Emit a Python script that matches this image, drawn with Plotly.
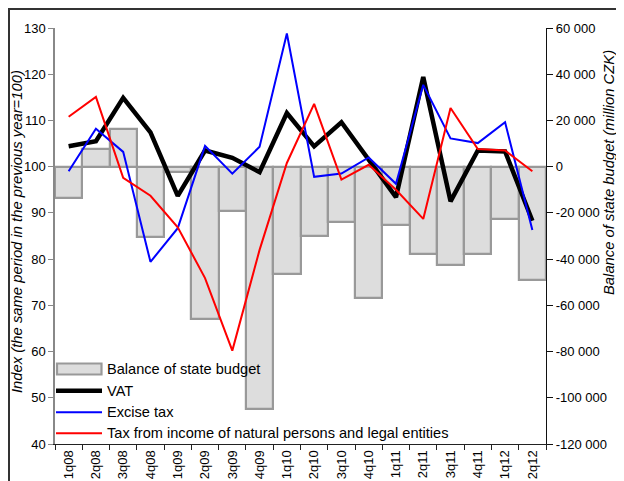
import plotly.graph_objects as go

quarters = ["1q08", "2q08", "3q08", "4q08", "1q09", "2q09", "3q09", "4q09", "1q10",
            "2q10", "3q10", "4q10", "1q11", "2q11", "3q11", "4q11", "1q12", "2q12"]
balance = [-13500, 7700, 16300, -30500, -2500, -66000, -19000, -105000, -46300,
           -30000, -23800, -57000, -25400, -37800, -42400, -37800, -22600, -49200]
vat = [104.4, 105.5, 114.9, 107.4, 93.7, 103.5, 101.9, 98.8, 111.6,
       104.4, 109.6, 101.5, 93.4, 119.4, 92.5, 103.5, 103.3, 88.3]
excise = [99.0, 108.2, 103.2, 79.4, 86.7, 104.5, 98.5, 104.3, 128.8,
          97.8, 98.5, 102.0, 96.3, 117.7, 106.1, 105.1, 109.6, 86.3]
income_tax = [110.8, 115.1, 97.6, 93.7, 86.9, 75.9, 60.2, 82.0, 100.8,
              113.6, 97.2, 100.4, 95.0, 88.7, 112.7, 103.8, 103.5, 99.0]

left_ticks = [40, 50, 60, 70, 80, 90, 100, 110, 120, 130]
right_tickvals = [-120000, -100000, -80000, -60000, -40000, -20000, 0, 20000, 40000, 60000]
right_ticktext = ["-120 000", "-100 000", "-80 000", "-60 000", "-40 000", "-20 000",
                  "0", "20 000", "40 000", "60 000"]

legend_names = ["Balance of state budget", "VAT", "Excise tax",
                "Tax from income of natural persons and legal entities"]

FONT = "Liberation Sans, Arial, sans-serif"
# page has an 8px body margin; figure placed at (8, 8)
OFF = 8
W, H = 624 - OFF, 481 - OFF
# plot area in page pixels: x 55..546, y 28..444
PL, PR, PT, PB = 55, 546, 28, 444
ML, MT = PL - OFF, PT - OFF
MR, MB = W - (PR - OFF), H - (PB - OFF)
PW, PH = PR - PL, PB - PT


def px(x):
    return (x - PL) / PW


def py(y):
    return (PB - y) / PH


fig = go.Figure()
fig.add_trace(go.Bar(x=quarters, y=balance, yaxis="y",
                     marker=dict(color="#dddddd", line=dict(color="#999999", width=2.2)),
                     name=legend_names[0], showlegend=False))
fig.add_trace(go.Scatter(x=quarters, y=vat, yaxis="y2", mode="lines",
                         line=dict(color="black", width=4.5), name=legend_names[1], showlegend=False))
fig.add_trace(go.Scatter(x=quarters, y=excise, yaxis="y2", mode="lines",
                         line=dict(color="#0000ff", width=2), name=legend_names[2], showlegend=False))
fig.add_trace(go.Scatter(x=quarters, y=income_tax, yaxis="y2", mode="lines",
                         line=dict(color="#ff0000", width=2), name=legend_names[3], showlegend=False))

shapes = []
annotations = []
# outer frame
shapes.append(dict(type="rect", xref="paper", yref="paper", x0=px(OFF + 1), x1=px(700),
                   y0=py(600), y1=py(9), line=dict(color="#333333", width=2), layer="below"))
# custom legend
leg_y = [369, 390.7, 412.3, 433.3]
shapes.append(dict(type="rect", xref="paper", yref="paper", x0=px(57), x1=px(101.5),
                   y0=py(374.5), y1=py(363.5), fillcolor="#dddddd",
                   line=dict(color="#999999", width=2.2)))
for yy, col, wd in zip(leg_y[1:], ["black", "#0000ff", "#ff0000"], [4.5, 2, 2]):
    shapes.append(dict(type="line", xref="paper", yref="paper", x0=px(56), x1=px(102),
                       y0=py(yy), y1=py(yy), line=dict(color=col, width=wd)))
for yy, name in zip(leg_y, legend_names):
    annotations.append(dict(xref="paper", yref="paper", x=px(104.5), y=py(yy), text=name,
                            showarrow=False, xanchor="left", yanchor="middle",
                            font=dict(family=FONT, size=14.6, color="black")))
# axis titles
annotations.append(dict(xref="paper", yref="paper", x=px(17), y=py(232),
                        text="<i>Index (the same period in the previous year=100)</i>",
                        textangle=-90, showarrow=False, xanchor="center", yanchor="middle",
                        font=dict(family=FONT, size=14.8, color="black")))
annotations.append(dict(xref="paper", yref="paper", x=px(609), y=py(173),
                        text="<i>Balance of state budget (million CZK)</i>",
                        textangle=-90, showarrow=False, xanchor="center", yanchor="middle",
                        font=dict(family=FONT, size=14.8, color="black")))

fig.update_layout(
    width=W, height=H,
    margin=dict(l=ML, r=MR, t=MT, b=MB, autoexpand=False),
    paper_bgcolor="white", plot_bgcolor="white",
    bargap=0,
    showlegend=False,
    font=dict(family=FONT, size=13, color="black"),
    xaxis=dict(type="category", range=[-0.5, 17.5], showgrid=False, zeroline=False,
               showline=True, linecolor="#222222", linewidth=1.2,
               ticks="outside", tickson="boundaries", ticklen=5, tickcolor="#222222",
               tickangle=-90,
               tickfont=dict(family=FONT, size=13, color="black"),
               automargin=False),
    yaxis=dict(side="right", range=[-120000, 60000], tickvals=right_tickvals,
               ticktext=right_ticktext, showgrid=False, zeroline=False,
               showline=True, linecolor="#111111", linewidth=1.2,
               ticks="outside", ticklen=6, tickcolor="#111111",
               tickfont=dict(family=FONT, size=13, color="black"), automargin=False),
    yaxis2=dict(side="left", overlaying="y", range=[40, 130], tickvals=left_ticks,
                showgrid=False, zeroline=False,
                showline=True, linecolor="#888888", linewidth=1.5,
                ticks="outside", ticklen=5, tickcolor="#888888",
                tickfont=dict(family=FONT, size=13, color="black"), automargin=False),
    shapes=shapes,
    annotations=annotations,
)

fig.write_html("out.html")
